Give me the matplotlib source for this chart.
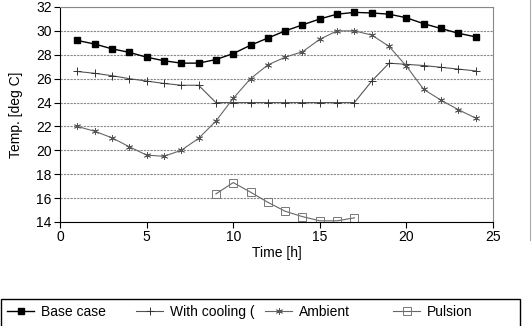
import matplotlib
matplotlib.use("Agg")
import matplotlib.pyplot as plt
from matplotlib.lines import Line2D
from matplotlib.patches import Rectangle

plt.rcParams['font.family'] = ['Liberation Sans', 'DejaVu Sans']

hours = list(range(1, 25))
base_case = [29.2, 28.9, 28.5, 28.2, 27.8, 27.5, 27.3, 27.3, 27.6, 28.1, 28.8, 29.4,
             30.0, 30.5, 31.0, 31.4, 31.55, 31.5, 31.4, 31.1, 30.6, 30.2, 29.8, 29.5]
with_cooling = [26.6, 26.45, 26.25, 26.0, 25.8, 25.6, 25.45, 25.45, 24.0, 24.0, 24.0, 24.0,
                24.0, 24.0, 24.0, 24.0, 24.0, 25.8, 27.3, 27.2, 27.1, 26.95, 26.8, 26.65]
ambient = [22.0, 21.6, 21.05, 20.3, 19.6, 19.5, 20.0, 21.0, 22.45, 24.35, 26.0, 27.15,
           27.8, 28.25, 29.3, 30.0, 30.0, 29.65, 28.7, 27.05, 25.1, 24.2, 23.4, 22.7]
pulsion_hours = [9, 10, 11, 12, 13, 14, 15, 16, 17]
pulsion = [16.35, 17.3, 16.5, 15.65, 14.9, 14.45, 14.1, 14.1, 14.35]

labels = ["Base case", "With cooling (", "Ambient", "Pulsion"]
x_ticks = [0, 5, 10, 15, 20, 25]
y_ticks = list(range(14, 33, 2))

W, H = 532, 326
fig = plt.figure(figsize=(W / 100, H / 100), dpi=100)
ax = fig.add_axes([60 / W, 1 - 222 / H, (493 - 60) / W, (222 - 7) / H])

l1, = ax.plot(hours, base_case, color='black', lw=1.0, marker='s', ms=4.8,
              mfc='black', mec='black')
l2, = ax.plot(hours, with_cooling, color='#555555', lw=0.8, marker='+', ms=6,
              mew=0.7, mec='#333333')
l3, = ax.plot(hours, ambient, color='#666666', lw=0.8, marker=(6, 2, 0), ms=5,
              mew=0.6, mec='#555555')
l4, = ax.plot(pulsion_hours, pulsion, color='#666666', lw=0.8, marker='s', ms=5.5,
              mfc='none', mec='#777777', mew=0.7)

ax.set_xlim(0, 25)
ax.set_ylim(14, 32)
ax.set_xticks(x_ticks)
ax.set_yticks(y_ticks)
ax.tick_params(labelsize=10, length=4, width=0.8, direction='out', pad=2)
ax.grid(axis='y', color='#888888', lw=0.8, linestyle=(0, (2, 1)))
ax.set_axisbelow(True)
for s in ['top', 'right']:
    ax.spines[s].set_color('#888888')
for s in ['left', 'bottom']:
    ax.spines[s].set_color('black')
ax.set_xlabel("Time [h]", fontsize=10, labelpad=1)
ax.set_ylabel("Temp. [deg C]", fontsize=10, labelpad=9)

# legend: fixed-width columns inside one framed box
starts = [7, 136, 265, 393]
for h, lab, xs in zip([l1, l2, l3, l4], labels, starts):
    fig.legend(handles=[h], labels=[lab], loc='center left',
               bbox_to_anchor=(xs / W, 1 - 312 / H), frameon=False,
               borderpad=0, borderaxespad=0, handlelength=1.95,
               handletextpad=0.5, fontsize=10)
fig.patches.append(Rectangle((1 / W, -0.05), 519 / W, (326 - 299) / H + 0.05,
                             transform=fig.transFigure, fill=False,
                             ec='black', lw=1.0))
fig.add_artist(Line2D([530 / W, 530 / W], [1 - 240 / H, 1.0],
                      transform=fig.transFigure, color='#aaaaaa', lw=0.8))

fig.savefig("out.png", dpi=100)
